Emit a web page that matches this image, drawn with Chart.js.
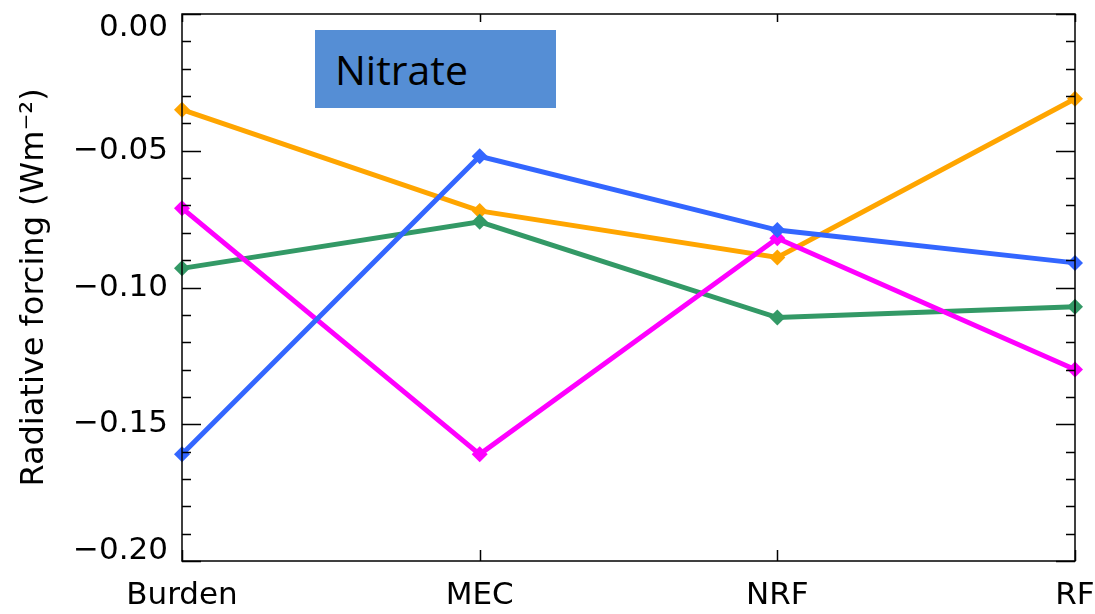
<!DOCTYPE html>
<html>
<head>
<meta charset="utf-8">
<script src="https://cdn.jsdelivr.net/npm/chart.js@4"></script>
<style>
  body { margin: 0; background: #fff; }
  #wrap { position: relative; width: 1095px; height: 614px; }
  #nitrate {
    position: absolute; left: 315px; top: 30px; width: 241px; height: 78px;
    background: #558ed5; color: #000;
    font-family: "Open Sans", sans-serif; font-size: 41px;
    line-height: 78px; padding-left: 20px; box-sizing: border-box;
  }
</style>
</head>
<body>
<div id="wrap">
  <canvas id="chart" width="1095" height="614"></canvas>
  <div id="nitrate">Nitrate</div>
</div>
<script>
const categories = ["Burden", "MEC", "NRF", "RF"];
const blueValues = [-0.161, -0.052, -0.079, -0.091];
const magentaValues = [-0.071, -0.161, -0.082, -0.130];
const greenValues = [-0.093, -0.076, -0.111, -0.107];
const orangeValues = [-0.035, -0.072, -0.089, -0.031];

// inward tick marks + frame, IDL style
const frameTicks = {
  id: "frameTicks",
  afterDraw(chart) {
    const { ctx, chartArea: a, scales } = chart;
    const y = scales.y;
    const x = scales.x;
    ctx.save();
    ctx.strokeStyle = "#000";
    ctx.lineWidth = 1.5;
    ctx.strokeRect(a.left, a.top, a.right - a.left, a.bottom - a.top);
    ctx.beginPath();
    for (let i = 0; i <= 20; i++) {
      const py = Math.round(y.getPixelForValue(-0.2 + i * 0.01)) + 0.5;
      const len = i % 5 === 0 ? 19 : 9;
      ctx.moveTo(a.left, py);
      ctx.lineTo(a.left + len, py);
      ctx.moveTo(a.right, py);
      ctx.lineTo(a.right - len, py);
    }
    for (let i = 0; i < categories.length; i++) {
      const px = Math.round(x.getPixelForValue(i)) + 0.5;
      ctx.moveTo(px, a.bottom);
      ctx.lineTo(px, a.bottom - 11);
      ctx.moveTo(px, a.top);
      ctx.lineTo(px, a.top + 8);
    }
    ctx.stroke();
    ctx.restore();
  },
};

function series(data, color) {
  return {
    data: data,
    borderColor: color,
    backgroundColor: color,
    borderWidth: 5,
    pointStyle: "rectRot",
    pointRadius: 8,
    pointBorderWidth: 0,
    tension: 0,
    clip: false,
  };
}

function fmt(v) {
  return (v < 0 ? "\u2212" : "") + Math.abs(v).toFixed(2);
}

new Chart(document.getElementById("chart"), {
  type: "line",
  data: {
    labels: categories,
    datasets: [
      series(blueValues, "#3366ff"),
      series(magentaValues, "#ff00ff"),
      series(greenValues, "#339966"),
      series(orangeValues, "#ffa500"),
    ],
  },
  options: {
    responsive: false,
    animation: false,
    layout: { padding: { top: 14, right: 20, left: 0, bottom: 0 } },
    plugins: { legend: { display: false }, tooltip: { enabled: false } },
    scales: {
      x: {
        offset: false,
        grid: { display: false },
        border: { display: false },
        ticks: {
          color: "#000",
          padding: 8,
          maxRotation: 0,
          font: { family: "DejaVu Sans", size: 31 },
        },
        afterFit(scale) {
          scale.height = 53;
          scale.paddingLeft = 0;
          scale.paddingRight = 0;
        },
      },
      y: {
        min: -0.2,
        max: 0,
        grid: { display: false },
        border: { display: false },
        ticks: {
          stepSize: 0.05,
          color: "#000",
          padding: 6,
          // end labels sit inside the frame, like the IDL original
          font: (c) => {
            const v = c.tick ? c.tick.value : null;
            let lh = 1.2;
            if (v !== null && Math.abs(v) < 1e-9) lh = "28px";
            if (v !== null && Math.abs(v + 0.2) < 1e-9) lh = "20px";
            return { family: "DejaVu Sans", size: 31, lineHeight: lh };
          },
          callback: (v) => {
            if (Math.abs(v) < 1e-9) return ["", fmt(0)];
            if (Math.abs(v + 0.2) < 1e-9) return [fmt(v), ""];
            return fmt(v);
          },
        },
        title: {
          display: true,
          text: "Radiative forcing (Wm\u207B\u00B2)",
          color: "#000",
          font: { family: "DejaVu Sans", size: 32 },
          padding: { top: 15, bottom: 0 },
        },
        afterFit(scale) {
          scale.width = 182;
          scale.paddingTop = 0;
          scale.paddingBottom = 0;
        },
      },
    },
  },
  plugins: [frameTicks],
});
</script>
</body>
</html>
